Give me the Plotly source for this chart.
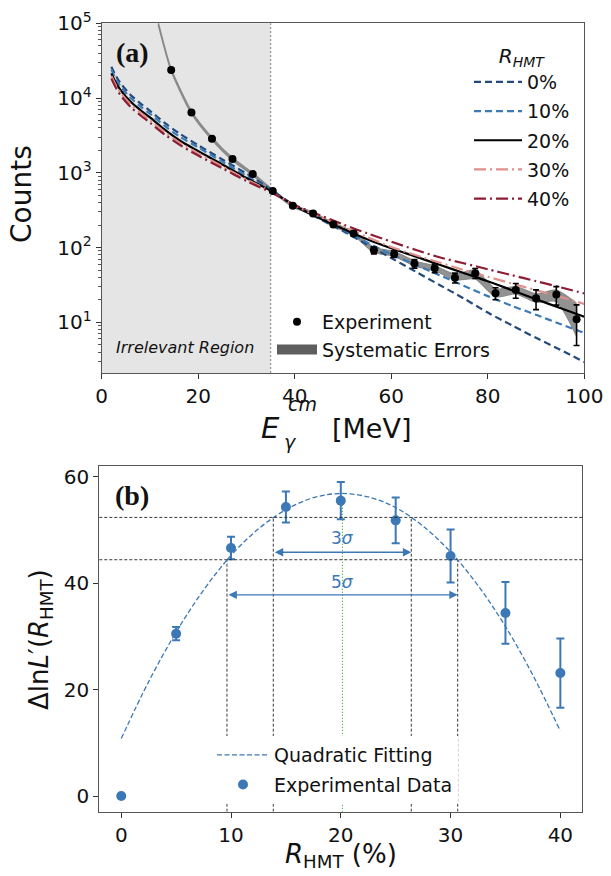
import plotly.graph_objects as go

W, H = 611, 876

# ---------------- panel (a) data ----------------
E_model = [2, 3, 4, 6, 8, 10, 13, 16, 20, 25, 30, 35, 40, 45, 50, 55, 60, 65, 70, 75, 80, 85, 90, 95, 100]
model_0 = [26300, 19500, 15500, 11000, 8500, 6760, 4680, 3390, 2340, 1510, 977, 603, 363, 245, 166, 110, 72.4, 47.9, 31.6, 20.9, 13.5, 9.1, 6.2, 4.3, 2.95]
model_10 = [24000, 17800, 14100, 10000, 7760, 6170, 4270, 3090, 2190, 1410, 912, 589, 363, 251, 174, 117, 81.3, 58.9, 42.7, 30.9, 22.4, 16.6, 12.6, 9.5, 7.2]
model_20 = [21400, 15800, 12600, 8910, 6920, 5500, 3800, 2750, 1950, 1290, 851, 575, 363, 251, 178, 129, 97.7, 75.9, 58.9, 45.7, 35.5, 26.9, 20.4, 15.5, 11.9]
model_30 = [19700, 14600, 11600, 8220, 6380, 5070, 3510, 2570, 1820, 1220, 813, 562, 363, 263, 191, 138, 102, 79.4, 63.1, 50.1, 40.7, 33.1, 26.9, 21.9, 17.6]
model_40 = [18200, 13500, 10700, 7590, 5890, 4680, 3270, 2400, 1700, 1150, 776, 550, 372, 275, 204, 155, 120, 93.3, 74.1, 61.7, 51.3, 42.7, 35.5, 29.5, 24.3]
model_labels = ["0%", "10%", "20%", "30%", "40%"]

E_exp = [14.4, 18.6, 22.85, 27.1, 31.3, 35.45, 39.6, 43.8, 48.0, 52.2, 56.4, 60.6, 64.8, 69.0, 73.2, 77.4, 81.6, 85.8, 90.0, 94.2, 98.4]
counts_exp = [23700, 6430, 2860, 1525, 962, 569, 362, 286, 204, 154, 92, 82, 61, 53, 39.5, 45.5, 24.5, 27, 21, 23.5, 11]
err_exp = [154, 80, 53, 39, 31, 24, 19, 17, 14, 12, 9.6, 8.5, 8, 7, 6, 7, 4.5, 6, 6.2, 6.5, 6.1]

E_band = [11.7, 14.4, 18.6, 22.85, 27.1, 31.3, 35.45, 39.6, 43.8, 48.0, 52.2, 56.4, 60.6, 64.8, 69.0, 73.2, 77.4, 81.6, 85.8, 90.0, 94.2, 98.4]
band_lo = [96000, 22800, 6170, 2750, 1465, 925, 548, 348, 272, 192, 146, 86, 77, 57, 49, 37, 38, 22, 24, 18.5, 19, 6.5]
band_hi = [104000, 24600, 6690, 2970, 1585, 1000, 590, 376, 298, 214, 164, 100, 89, 66, 57, 44, 50, 28, 30, 24, 27, 18]

irrelevant_limit = 35

# ---------------- panel (b) data ----------------
R_data = [0, 5, 10, 15, 20, 25, 30, 35, 40]
dlnL = [0.0, 30.5, 46.6, 54.3, 55.5, 51.8, 45.1, 34.4, 23.1]
dlnL_err = [0.0, 1.25, 2.1, 2.9, 3.5, 4.3, 5.0, 5.8, 6.5]

R_fit = [0, 2.5, 5, 7.5, 10, 12.5, 15, 17.5, 20, 22.5, 25, 27.5, 30, 32.5, 35, 37.5, 40]
dlnL_fit = [10.8, 21.5, 30.8, 38.7, 45.2, 50.2, 53.8, 56.05, 56.85, 56.2, 54.2, 50.7, 45.85, 39.55, 31.85, 22.7, 12.2]

R_best = 20.15
peak_value = 56.85
level_3sigma = 52.35
level_5sigma = 44.4
bounds_3sigma = [13.85, 26.42]
bounds_5sigma = [9.63, 30.65]
arrow_y_3sigma = 45.8
arrow_y_5sigma = 37.8
label_y_3sigma = 48.5
label_y_5sigma = 40.3

# ---------------- styling ----------------
FONT = "DejaVu Sans"
c0, c10, c20, c30, c40 = "#244a7c", "#3a7ab6", "#000000", "#e0908a", "#8c1d35"
blue_b = "#3c78b5"
frame = "#555555"

fig = go.Figure()

# systematic band (drawn first)
fig.add_trace(go.Scatter(x=E_band, y=band_lo, mode="lines", line=dict(color="#8a8a8a", width=1.3, shape="spline", smoothing=0.6),
                         showlegend=False, hoverinfo="skip", xaxis="x", yaxis="y"))
fig.add_trace(go.Scatter(x=E_band, y=band_hi, mode="lines", line=dict(color="#8a8a8a", width=1.3, shape="spline", smoothing=0.6),
                         fill="tonexty", fillcolor="rgba(110,110,110,0.75)", showlegend=False,
                         hoverinfo="skip", xaxis="x", yaxis="y"))
# legend entry for the band (patch-like icon)
fig.add_trace(go.Scatter(x=[None], y=[None], mode="lines", name="Systematic Errors",
                         line=dict(color="#5e5e5e", width=11),
                         legend="legend2", legendrank=2, legendgroup="sys", xaxis="x", yaxis="y"))

dashes = ["7px,4px", "7px,4px", "solid", "12px,4px,2px,4px", "12px,4px,2px,4px"]
colors = [c0, c10, c20, c30, c40]
models = [model_0, model_10, model_20, model_30, model_40]
for i, (lab, ys) in enumerate(zip(model_labels, models)):
    fig.add_trace(go.Scatter(x=E_model, y=ys, mode="lines", name=lab,
                             line=dict(color=colors[i], width=2.2, dash=dashes[i], shape="spline", smoothing=0.8),
                             legend="legend", legendrank=i + 1, legendgroup="m%d" % i,
                             xaxis="x", yaxis="y"))

fig.add_trace(go.Scatter(x=E_exp, y=counts_exp, mode="markers", name="Experiment",
                         marker=dict(color="black", size=8),
                         error_y=dict(type="data", array=err_exp, color="black", thickness=1.6, width=3),
                         legend="legend2", legendrank=1, legendgroup="exp", xaxis="x", yaxis="y"))

# panel (b)
fig.add_trace(go.Scatter(x=R_fit, y=dlnL_fit, mode="lines", name="Quadratic Fitting",
                         line=dict(color=blue_b, width=1.3, dash="5px,2.5px", shape="spline"),
                         legend="legend3", legendrank=1, legendgroup="fit", xaxis="x2", yaxis="y2"))
fig.add_trace(go.Scatter(x=R_data, y=dlnL, mode="markers", name="Experimental Data",
                         marker=dict(color=blue_b, size=10),
                         error_y=dict(type="data", array=dlnL_err, color=blue_b, thickness=2, width=4),
                         legend="legend3", legendrank=2, legendgroup="dat", xaxis="x2", yaxis="y2"))

shapes = []
shapes.append(dict(type="rect", xref="x", yref="y domain", x0=0, x1=irrelevant_limit, y0=0, y1=1,
                   fillcolor="#e5e5e5", line=dict(width=0), layer="below"))
shapes.append(dict(type="line", xref="x", yref="y domain", x0=irrelevant_limit, x1=irrelevant_limit, y0=0, y1=1,
                   line=dict(color="#9a9a9a", width=1.3, dash="2px,2px"), layer="below"))
for lv in (level_3sigma, level_5sigma):
    shapes.append(dict(type="line", xref="x2 domain", yref="y2", x0=0, x1=1, y0=lv, y1=lv,
                       line=dict(color="#222", width=0.9, dash="3px,2px")))
for xb in bounds_3sigma:
    shapes.append(dict(type="line", xref="x2", yref="y2", x0=xb, x1=xb, y0=-2.95, y1=level_3sigma,
                       line=dict(color="#222", width=0.9, dash="3px,2px"), layer="below"))
for xb in bounds_5sigma:
    shapes.append(dict(type="line", xref="x2", yref="y2", x0=xb, x1=xb, y0=-2.95, y1=level_5sigma,
                       line=dict(color="#222", width=0.9, dash="3px,2px"), layer="below"))
shapes.append(dict(type="line", xref="x2", yref="y2", x0=R_best, x1=R_best, y0=-2.95, y1=peak_value,
                   line=dict(color="#2ca02c", width=1.1, dash="1px,2px"), layer="below"))

ann = []
for (xa, xb), ya in ((bounds_3sigma, arrow_y_3sigma), (bounds_5sigma, arrow_y_5sigma)):
    ann.append(dict(xref="x2", yref="y2", axref="x2", ayref="y2", x=xb, y=ya, ax=xa, ay=ya, text="",
                    showarrow=True, arrowside="end+start", arrowhead=2, arrowsize=1.2, arrowwidth=1.4,
                    arrowcolor=blue_b, standoff=0, startstandoff=0))
ann.append(dict(xref="x2", yref="y2", x=R_best, y=label_y_3sigma, text="3<i>σ</i>", showarrow=False,
                font=dict(family=FONT, size=17, color=blue_b)))
ann.append(dict(xref="x2", yref="y2", x=R_best, y=label_y_5sigma, text="5<i>σ</i>", showarrow=False,
                font=dict(family=FONT, size=17, color=blue_b)))

def P(xp, yp, text, size, xanchor="center", yanchor="middle", **kw):
    d = dict(xref="paper", yref="paper", x=xp / W, y=1 - yp / H, text=text, showarrow=False,
             xanchor=xanchor, yanchor=yanchor, borderpad=0,
             font=dict(family=kw.pop("family", FONT), size=size, color="#111"))
    d.update(kw)
    return d

ann.append(P(132, 53, "<b>(a)</b>", 28, family="Liberation Serif"))
ann.append(P(132, 495, "<b>(b)</b>", 28, family="Liberation Serif"))
ann.append(P(185, 347, "<i>Irrelevant Region</i>", 16))
ann.append(P(22, 194, "Counts", 28, textangle=-90))
ann.append(P(40, 640, "Δln<i>L</i>′(<i>R</i><sub>HMT</sub>)", 26, textangle=-90))
ann.append(P(341, 855, "<i>R</i><sub>HMT</sub> (%)", 26))
ann.append(P(260, 428, "<i>E</i>", 29, xanchor="left"))
ann.append(P(283, 442, "<i>γ</i>", 19, xanchor="left"))
ann.append(P(287, 404, "<i>cm</i>", 19, xanchor="left"))
ann.append(P(331, 428, "[MeV]", 27, xanchor="left"))

tickfont = dict(family=FONT, size=20, color="#111")
axis_common = dict(showline=True, mirror=True, linecolor=frame, linewidth=1.2, ticks="outside",
                   ticklen=5, tickwidth=1.1, tickcolor="#333", showgrid=False, zeroline=False,
                   tickfont=tickfont, automargin=False)

minor_logticks = [m * 10 ** k for k in range(0, 5) for m in range(2, 10) if m * 10 ** k > 2.1]

leg_font = dict(family=FONT, size=19, color="#111")
fig.update_layout(
    width=W, height=H, autosize=False,
    margin=dict(l=0, r=0, t=0, b=0, pad=0),
    paper_bgcolor="white", plot_bgcolor="white",
    shapes=shapes, annotations=ann,
    xaxis=dict(domain=[101.7 / W, 584.3 / W], range=[0, 100], anchor="y",
               tickvals=[0, 20, 40, 60, 80, 100], **axis_common),
    yaxis=dict(domain=[1 - 373 / H, 1 - 23.3 / H], type="log", range=[0.322, 5], anchor="x",
               tickvals=[10, 100, 1000, 10000, 100000],
               ticktext=["10<sup>1</sup>", "10<sup>2</sup>", "10<sup>3</sup>", "10<sup>4</sup>", "10<sup>5</sup>"],
               minor=dict(tickmode="array", tickvals=minor_logticks, ticks="outside", ticklen=2.5,
                          tickwidth=0.8, tickcolor="#555", showgrid=False),
               **axis_common),
    xaxis2=dict(domain=[99.3 / W, 582.3 / W], range=[-2, 42], anchor="y2",
                tickvals=[0, 10, 20, 30, 40], **axis_common),
    yaxis2=dict(domain=[1 - 811.7 / H, 1 - 465.7 / H], range=[-2.95, 62.07], anchor="x2",
                tickvals=[0, 20, 40, 60], **axis_common),
    legend=dict(x=575 / W, y=1 - 37 / H, xanchor="right", yanchor="top", bgcolor="rgba(255,255,255,0)",
                font=leg_font, itemwidth=48, tracegroupgap=1.5,
                title=dict(text="<i>R</i><sub><i>HMT</i></sub>", side="top center", font=dict(family=FONT, size=20))),
    legend2=dict(x=272 / W, y=1 - 303 / H, xanchor="left", yanchor="top", bgcolor="rgba(255,255,255,0)",
                 font=leg_font, itemwidth=40, tracegroupgap=0),
    legend3=dict(x=212 / W, y=1 - 736 / H, xanchor="left", yanchor="top", bgcolor="white",
                 font=leg_font, itemwidth=52, tracegroupgap=2),
)

fig.write_html("out.html", post_script="document.body.style.margin='0px';",
               config={"displayModeBar": False})
